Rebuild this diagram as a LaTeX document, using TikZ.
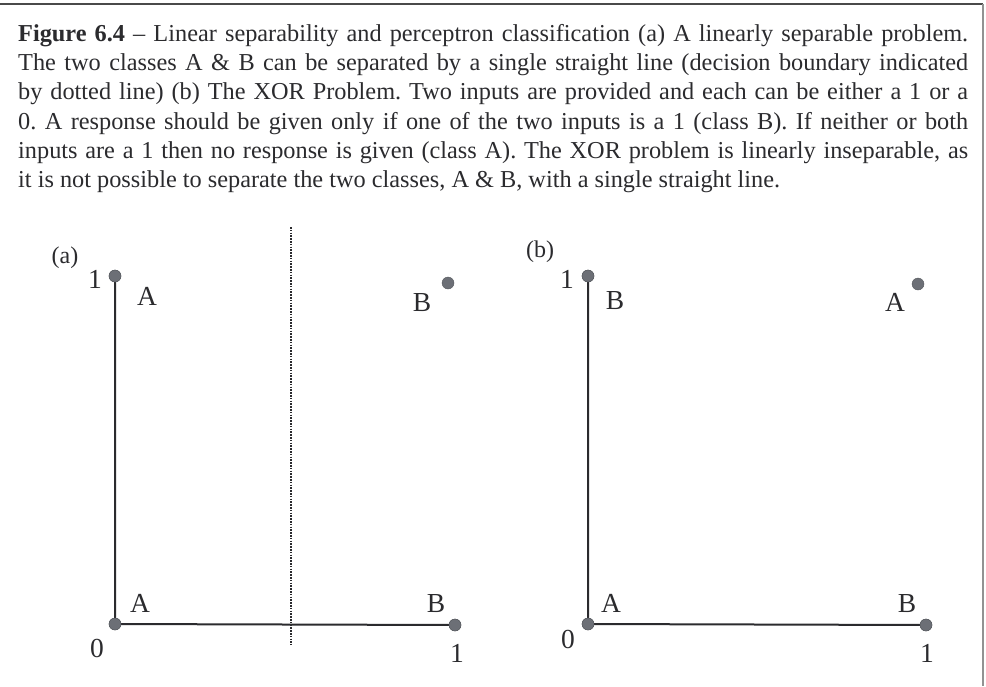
\documentclass[tikz,border=0pt]{standalone}
\usepackage{fontspec}
\setmainfont{Liberation Serif}
\definecolor{ink}{HTML}{2B2B2E}
\definecolor{dotgray}{HTML}{6C6F76}
\definecolor{framegray}{HTML}{4A4A4A}
\begin{document}
\begin{tikzpicture}[x=1pt,y=-1pt,
  axis/.style={draw=ink,line width=2pt},
  pt/.style={circle,fill=dotgray,draw=dotgray!80!black,line width=0.4pt,minimum size=12pt,inner sep=0pt},
  lbl/.style={anchor=base,inner sep=0pt,font=\fontsize{27.5}{32}\selectfont,text=ink},
  tag/.style={anchor=base,inner sep=0pt,font=\fontsize{24}{28}\selectfont,text=ink},
  boundary/.style={draw=ink,line width=2pt,dash pattern=on 1.6pt off 1.2pt}]
\useasboundingbox (0,0) rectangle (986,686);
\fill[white] (0,0) rectangle (986,686);
% frame
\coordinate (fl) at (0,4);
\coordinate (fr) at (983,4);
\coordinate (fb) at (983,686);
\draw[framegray,line width=2.5pt] (fl) -- (fr);
\draw[framegray!60,line width=1.5pt] (fr) -- (fb);
% caption
\node[anchor=north west,inner sep=0pt,text width=950pt,align=justify,text=ink,
  font=\fontsize{24.3}{29.3}\selectfont\frenchspacing] (cap) at (18,24)
 {\textbf{Figure 6.4} -- Linear separability and perceptron classification (a) A linearly separable problem.\linebreak
 The two classes A \& B can be separated by a single straight line (decision boundary indicated\linebreak
 by dotted line) (b) The XOR Problem. Two inputs are provided and each can be either a 1 or a\linebreak
 0. A response should be given only if one of the two inputs is a 1 (class B). If neither or both\linebreak
 inputs are a 1 then no response is given (class A). The XOR problem is linearly inseparable, as\linebreak
 it is not possible to separate the two classes, A \& B, with a single straight line.};
% ---------- panel (a)
\coordinate (dtop) at (291,227);
\coordinate (dbot) at (291,645);
\draw[boundary] (dtop) -- (dbot);
\node[pt] (a01) at (115,276) {};
\node[pt] (a00) at (115,624) {};
\node[pt] (a10) at (455,625) {};
\node[pt] (a11) at (448,283) {};
\draw[axis] (a01.center) -- (a00.center) -- (a10.center);
\node[pt] at (a01) {};
\node[pt] at (a00) {};
\node[pt] at (a10) {};
\node[tag] (atag) at (65,263) {(a)};
\node[lbl] (ay1) at (95,288) {1};
\node[lbl] (ax0) at (97,657) {0};
\node[lbl] (ax1) at (457,662) {1};
\node[lbl] (aA1) at (147,305) {A};
\node[lbl] (aB1) at (422,311) {B};
\node[lbl] (aA0) at (140,612) {A};
\node[lbl] (aB0) at (436,612) {B};
% ---------- panel (b)
\node[pt] (b01) at (588,276) {};
\node[pt] (b00) at (588,624) {};
\node[pt] (b10) at (926,625) {};
\node[pt] (b11) at (918,284) {};
\draw[axis] (b01.center) -- (b00.center) -- (b10.center);
\node[pt] at (b01) {};
\node[pt] at (b00) {};
\node[pt] at (b10) {};
\node[tag] (btag) at (540,257) {(b)};
\node[lbl] (by1) at (567,288) {1};
\node[lbl] (bx0) at (568,648) {0};
\node[lbl] (bx1) at (927,662) {1};
\node[lbl] (bB1) at (615,309) {B};
\node[lbl] (bA1) at (895,311) {A};
\node[lbl] (bA0) at (611,612) {A};
\node[lbl] (bB0) at (907,612) {B};
\end{tikzpicture}
\end{document}
